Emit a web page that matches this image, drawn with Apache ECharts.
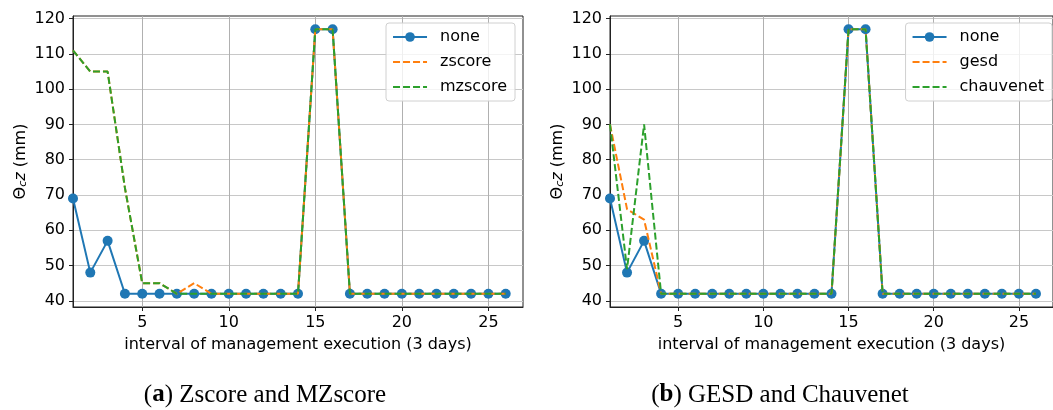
<!DOCTYPE html>
<html>
<head>
<meta charset="utf-8">
<script src="https://cdn.jsdelivr.net/npm/echarts@6/dist/echarts.min.js"></script>
<style>
  html,body{margin:0;padding:0;background:#fff;}
  #chart{width:1053px;height:410px;}
</style>
</head>
<body>
<div id="chart"></div>
<script>
// interval index (x axis)
var intervals = [1,2,3,4,5,6,7,8,9,10,11,12,13,14,15,16,17,18,19,20,21,22,23,24,25,26];
// Θcz (mm) per method
var noneVals      = [69,48,57,42,42,42,42,42,42,42,42,42,42,42,117,117,42,42,42,42,42,42,42,42,42,42];
var zscoreVals    = [111,105,105,72,45,45,42,45,42,42,42,42,42,42,117,117,42,42,42,42,42,42,42,42,42,42];
var mzscoreVals   = [111,105,105,72,45,45,42,42,42,42,42,42,42,42,117,117,42,42,42,42,42,42,42,42,42,42];
var gesdVals      = [90,66,63,42,42,42,42,42,42,42,42,42,42,42,117,117,42,42,42,42,42,42,42,42,42,42];
var chauvenetVals = [90,49,90,42,42,42,42,42,42,42,42,42,42,42,117,117,42,42,42,42,42,42,42,42,42,42];
var xTicks = [5,10,15,20,25];
var yTicks = [40,50,60,70,80,90,100,110,120];

var blue='#1f77b4', orange='#ff7f0e', green='#2ca02c';
var sans='DejaVu Sans', serif='Liberation Serif';

function pairs(vals){
    var d=[];
    for(var i=0;i<intervals.length;i++){
        d.push([intervals[i],vals[i]]);
    }
    return d;
}

function xAxisFor(idx){
    return {
        type:'value', gridIndex:idx, min:1, max:27,
        name:'interval of management execution (3 days)',
        nameLocation:'middle', nameGap:30,
        nameTextStyle:{fontFamily:sans,fontSize:16,color:'#000'},
        axisLine:{show:true,lineStyle:{color:'#222',width:1}},
        axisTick:{show:true,length:4,inside:false,customValues:xTicks,lineStyle:{color:'#222'}},
        axisLabel:{customValues:xTicks,margin:8,fontFamily:sans,fontSize:16,color:'#000'},
        splitLine:{show:true,lineStyle:{color:'#b0b0b0',width:1}}
    };
}

function yAxisFor(idx){
    return {
        type:'value', gridIndex:idx, min:38.25, max:120.75,
        name:'Θ{sub|c}{it|z} (mm)',
        nameLocation:'middle', nameGap:44, nameRotate:90,
        nameTextStyle:{fontFamily:sans,fontSize:16,color:'#000',
            rich:{
                sub:{fontFamily:sans,fontSize:11,fontStyle:'italic',color:'#000',verticalAlign:'bottom',lineHeight:14},
                it:{fontFamily:sans,fontSize:16,fontStyle:'italic',color:'#000'}
            }},
        axisLine:{show:true,lineStyle:{color:'#222',width:1}},
        axisTick:{show:true,length:4,inside:false,customValues:yTicks,lineStyle:{color:'#222'}},
        axisLabel:{customValues:yTicks,margin:8,fontFamily:sans,fontSize:16,color:'#000'},
        splitLine:{show:true,lineStyle:{color:'#c8c8c8',width:1.2}}
    };
}

function solidSeries(name,vals,idx){
    return {
        name:name, type:'line', xAxisIndex:idx, yAxisIndex:idx, z:2,
        data:pairs(vals), symbol:'circle', symbolSize:10, showSymbol:true,
        lineStyle:{color:blue,width:2}, itemStyle:{color:blue},
        animation:false
    };
}
function dashSeries(name,vals,idx,color,z){
    return {
        name:name, type:'line', xAxisIndex:idx, yAxisIndex:idx, z:z,
        data:pairs(vals), symbol:'none', showSymbol:false,
        lineStyle:{color:color,width:2,type:[7,3]}, itemStyle:{color:color},
        animation:false
    };
}

// dashed entries get no marker in the legend
function legendFor(names,right){
    var items=[{name:names[0]}];
    for(var i=1;i<names.length;i++){
        items.push({name:names[i],itemStyle:{opacity:0}});
    }
    return {
        data:items, orient:'vertical', top:23, right:right,
        itemWidth:34, itemHeight:12, itemGap:9,
        padding:[6,8,6,6],
        backgroundColor:'rgba(255,255,255,0.8)', borderColor:'#d0d0d0', borderWidth:1, borderRadius:3,
        textStyle:{fontFamily:sans,fontSize:16,color:'#000',lineHeight:14,padding:[0,0,0,8]},
        selectedMode:false
    };
}

var option={
    backgroundColor:'#fff',
    animation:false,
    grid:[
        {left:73,right:530,top:16,bottom:103,show:true,borderColor:'#222',borderWidth:1,backgroundColor:'transparent'},
        {left:610,right:-8,top:16,bottom:103,show:true,borderColor:'#222',borderWidth:1,backgroundColor:'transparent'}
    ],
    xAxis:[xAxisFor(0),xAxisFor(1)],
    yAxis:[yAxisFor(0),yAxisFor(1)],
    legend:[
        legendFor(['none','zscore','mzscore'],538),
        legendFor(['none','gesd','chauvenet'],1)
    ],
    series:[
        solidSeries('none',noneVals,0),
        dashSeries('zscore',zscoreVals,0,orange,3),
        dashSeries('mzscore',mzscoreVals,0,green,4),
        solidSeries('none',noneVals,1),
        dashSeries('gesd',gesdVals,1,orange,3),
        dashSeries('chauvenet',chauvenetVals,1,green,4)
    ]
};

// captions under each panel
option.graphic=[
    {type:'text',x:265,y:395,style:{
        text:'({b|a}) Zscore and MZscore',
        align:'center',verticalAlign:'middle',
        fontFamily:serif,fontSize:25,fill:'#000',
        rich:{b:{fontFamily:serif,fontSize:25,fontWeight:'bold',fill:'#000'}}
    }},
    {type:'text',x:780,y:395,style:{
        text:'({b|b}) GESD and Chauvenet',
        align:'center',verticalAlign:'middle',
        fontFamily:serif,fontSize:25,fill:'#000',
        rich:{b:{fontFamily:serif,fontSize:25,fontWeight:'bold',fill:'#000'}}
    }}
];

var chart=echarts.init(document.getElementById('chart'),null,{renderer:'canvas'});
chart.setOption(option);
</script>
</body>
</html>
